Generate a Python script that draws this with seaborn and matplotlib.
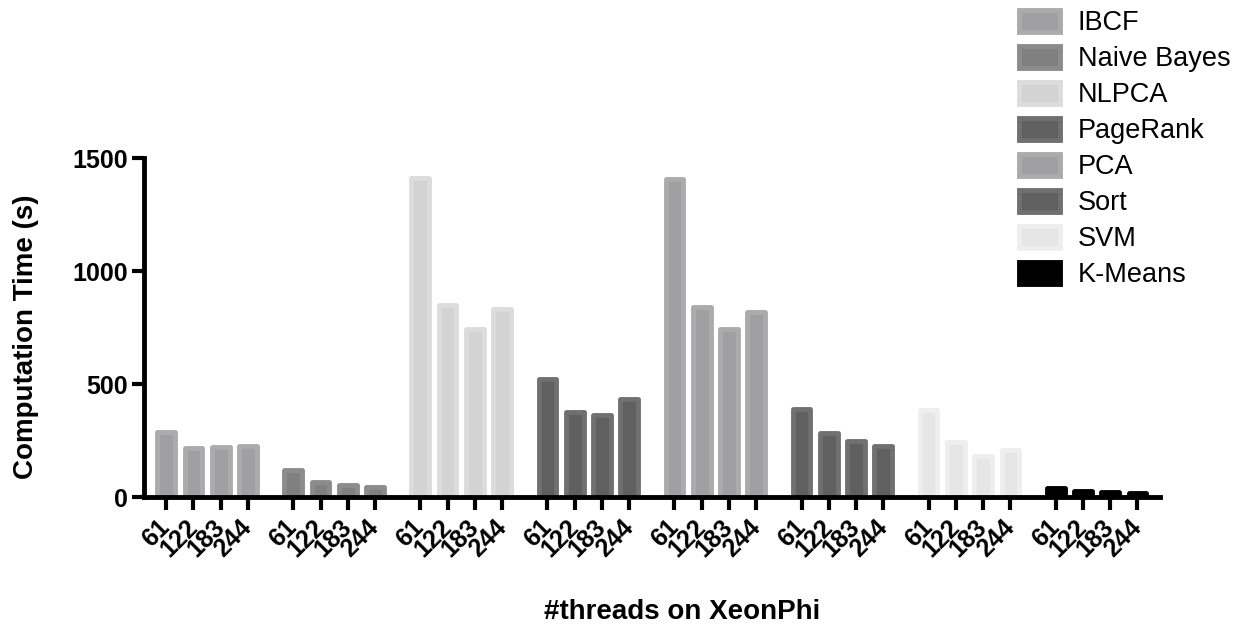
import pandas as pd
import numpy as np
import matplotlib.pyplot as plt
import seaborn as sns

# Data
benchmarks = ['IBCF', 'Naive Bayes', 'NLPCA', 'PageRank', 'PCA', 'Sort', 'SVM', 'K-Means']
threads = [61, 122, 183, 244]

ibcf = [288, 217, 221, 226]
naive_bayes = [119, 66, 53, 44]
nlpca = [1411, 850, 744, 835]
pagerank = [522, 376, 363, 434]
pca = [1407, 841, 743, 819]
sort = [389, 283, 250, 228]
svm = [385, 243, 181, 208]
kmeans = [43, 28, 22, 19]

fills = ['#a0a0a3', '#808080', '#d3d3d3', '#606060', '#a0a0a3', '#606060', '#e6e6e6', '#000000']
edges = ['#ababab', '#8c8c8c', '#dcdcdc', '#707070', '#ababab', '#707070', '#eeeeee', '#000000']

values = [ibcf, naive_bayes, nlpca, pagerank, pca, sort, svm, kmeans]

# Build long table, bars in a group sit on consecutive slots, groups separated by a gap
GROUP_STEP = 4.66
rows = []
for g, (name, vals) in enumerate(zip(benchmarks, values)):
    for i, (t, v) in enumerate(zip(threads, vals)):
        rows.append([name, t, v, g * GROUP_STEP + i])
df = pd.DataFrame(rows, columns=['Benchmark', 'Threads', 'Time', 'pos'])

sns.set_style('ticks')
plt.rcParams['font.family'] = ['Liberation Sans', 'DejaVu Sans']
for k in ['text.color', 'axes.labelcolor', 'xtick.color', 'ytick.color', 'axes.edgecolor']:
    plt.rcParams[k] = 'black'

fig = plt.figure(figsize=(12.45, 6.36), dpi=100)
ax = fig.add_axes([0.116, 0.218, 0.816, 0.533])

for name, fc, ec in zip(benchmarks, fills, edges):
    sub = df[df['Benchmark'] == name]
    sns.barplot(data=sub, x='pos', y='Time', native_scale=True, color=fc,
                edgecolor=ec, linewidth=3.5, width=0.65, saturation=1,
                errorbar=None, label=name, ax=ax)

for p in ax.patches:
    p.set_joinstyle('round')

if ax.get_legend() is not None:
    ax.get_legend().remove()

ax.set_xlim(-0.8, 7 * GROUP_STEP + 3 + 0.84)
ax.set_ylim(0, 1500)
ax.set_yticks([0, 500, 1000, 1500])
ax.set_xticks(df['pos'])
ax.set_xticklabels(df['Threads'].astype(str), rotation=45, ha='right',
                   va='center', rotation_mode='anchor')

sns.despine(ax=ax)
for s in ['left', 'bottom']:
    ax.spines[s].set_linewidth(3.5)
    ax.spines[s].set_zorder(5)

ax.tick_params(axis='both', width=3, length=9, color='black', pad=3)
ax.tick_params(axis='x', pad=10)
for lab in ax.get_xticklabels() + ax.get_yticklabels():
    lab.set_fontweight('bold')
    lab.set_fontsize(18)

ax.set_ylabel('Computation Time (s)', fontsize=20, fontweight='bold')
ax.set_xlabel('#threads on XeonPhi', fontsize=20, fontweight='bold')
ax.yaxis.set_label_coords(-0.104, 0.475)
ax.xaxis.set_label_coords(0.529, -0.30)

h, l = ax.get_legend_handles_labels()
fig.legend(h, l, loc='upper left', bbox_to_anchor=(1014 / 1245, 0.993),
           frameon=False, fontsize=19.5, handlelength=1.5, handleheight=0.89,
           labelspacing=0.35, handletextpad=0.66, borderaxespad=0, borderpad=0.2)

fig.savefig('out.png', dpi=100)
plt.close()
